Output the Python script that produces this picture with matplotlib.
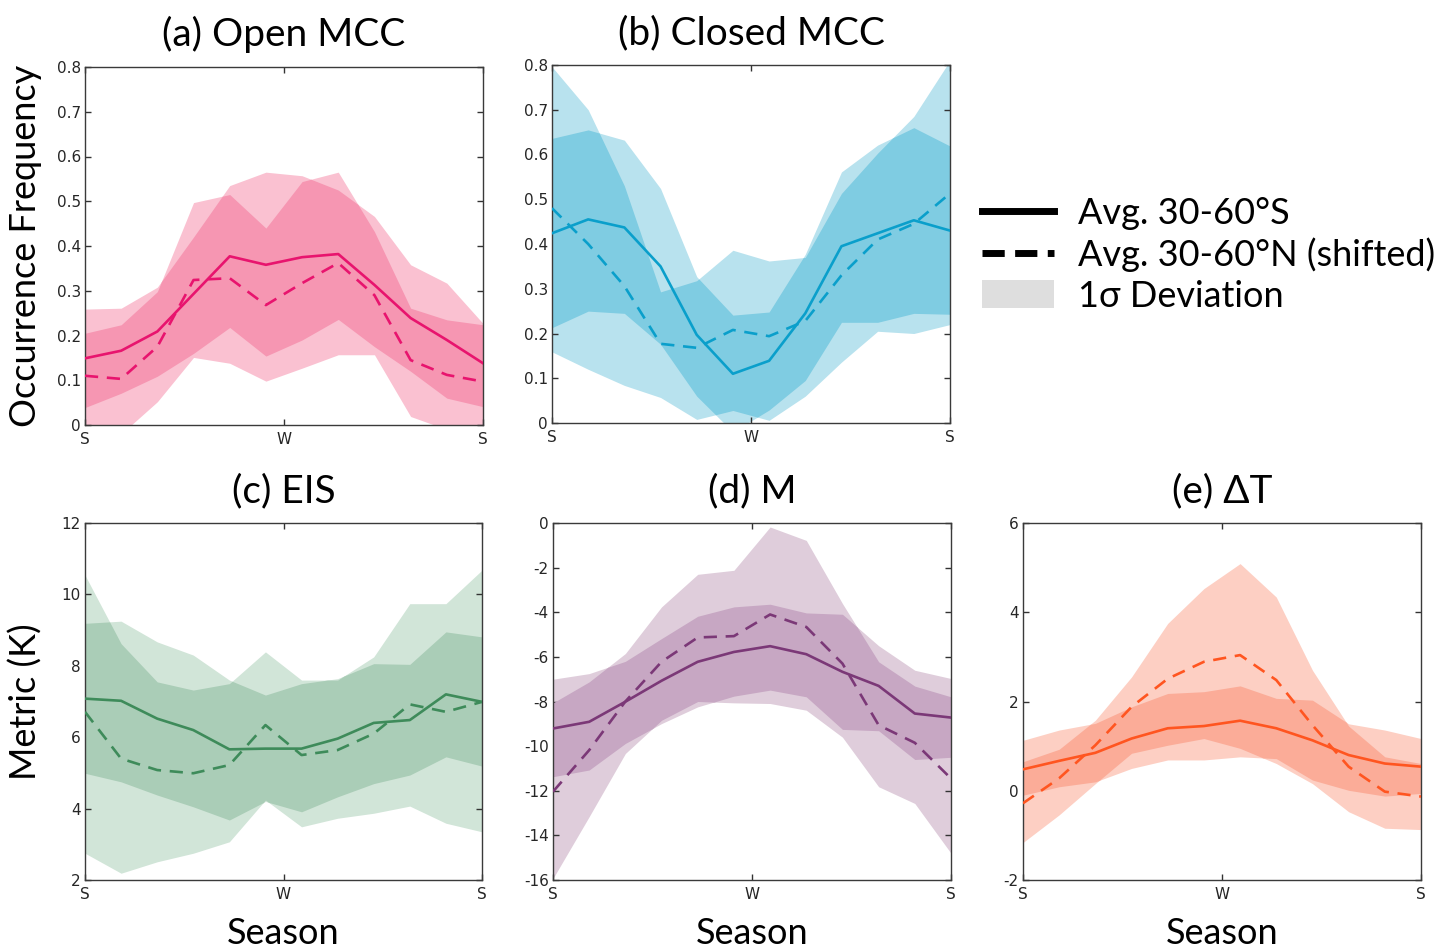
import numpy as np
import matplotlib
matplotlib.use("Agg")
import matplotlib.pyplot as plt
from matplotlib.lines import Line2D
from matplotlib.patches import Patch

# ---------------- data ----------------
months = np.arange(12)
season_ticks = [0, 5.5, 11]
season_labels = ["S", "W", "S"]

# (a) Open MCC
a_S_mean = [0.149, 0.166, 0.209, 0.293, 0.377, 0.358, 0.375, 0.382, 0.313, 0.239, 0.190, 0.138]
a_S_lo = [0.039, 0.071, 0.109, 0.160, 0.218, 0.154, 0.190, 0.236, 0.175, 0.120, 0.060, 0.041]
a_S_hi = [0.259, 0.261, 0.308, 0.420, 0.535, 0.565, 0.557, 0.525, 0.466, 0.358, 0.317, 0.227]
a_N_mean = [0.110, 0.103, 0.175, 0.324, 0.328, 0.268, 0.317, 0.362, 0.290, 0.145, 0.112, 0.097]
a_N_lo = [-0.010, -0.020, 0.052, 0.151, 0.138, 0.098, 0.127, 0.157, 0.157, 0.019, -0.010, -0.030]
a_N_hi = [0.205, 0.224, 0.298, 0.497, 0.515, 0.440, 0.544, 0.565, 0.432, 0.261, 0.235, 0.224]

# (b) Closed MCC
b_S_mean = [0.424, 0.455, 0.437, 0.350, 0.197, 0.110, 0.139, 0.245, 0.395, 0.424, 0.453, 0.430]
b_S_lo = [0.213, 0.250, 0.245, 0.176, 0.060, -0.020, 0.029, 0.095, 0.225, 0.225, 0.245, 0.243]
b_S_hi = [0.636, 0.655, 0.632, 0.524, 0.327, 0.241, 0.248, 0.377, 0.561, 0.621, 0.660, 0.619]
b_N_mean = [0.480, 0.400, 0.306, 0.177, 0.168, 0.208, 0.194, 0.228, 0.330, 0.410, 0.445, 0.513]
b_N_lo = [0.159, 0.120, 0.084, 0.057, 0.008, 0.028, 0.006, 0.060, 0.136, 0.205, 0.200, 0.220]
b_N_hi = [0.796, 0.700, 0.530, 0.293, 0.318, 0.386, 0.362, 0.370, 0.513, 0.603, 0.685, 0.810]

# (c) EIS
c_S_mean = [7.08, 7.02, 6.52, 6.20, 5.66, 5.68, 5.68, 5.96, 6.40, 6.48, 7.20, 6.99]
c_S_lo = [4.99, 4.75, 4.38, 4.05, 3.68, 4.20, 3.91, 4.33, 4.70, 4.94, 5.45, 5.19]
c_S_hi = [9.19, 9.25, 8.67, 8.30, 7.60, 7.18, 7.50, 7.64, 8.06, 8.04, 8.95, 8.81]
c_N_mean = [6.71, 5.40, 5.08, 4.99, 5.22, 6.34, 5.50, 5.64, 6.10, 6.92, 6.71, 6.99]
c_N_lo = [2.75, 2.19, 2.51, 2.75, 3.07, 4.24, 3.49, 3.73, 3.87, 4.07, 3.59, 3.35]
c_N_hi = [10.54, 8.62, 7.55, 7.32, 7.50, 8.39, 7.60, 7.60, 8.25, 9.74, 9.74, 10.68]

# (d) M
d_S_mean = [-9.21, -8.91, -8.01, -7.07, -6.22, -5.78, -5.52, -5.88, -6.67, -7.30, -8.54, -8.72]
d_S_lo = [-11.37, -11.07, -9.88, -8.99, -8.24, -7.76, -7.49, -7.79, -9.25, -9.31, -10.60, -10.50]
d_S_hi = [-7.00, -6.75, -6.20, -5.18, -4.18, -3.76, -3.64, -4.03, -4.09, -5.50, -6.60, -6.97]
d_N_mean = [-12.04, -10.18, -8.00, -6.22, -5.13, -5.07, -4.10, -4.66, -6.30, -9.06, -9.85, -11.45]
d_N_lo = [-15.93, -13.16, -10.33, -8.84, -8.00, -8.06, -8.09, -8.39, -9.60, -11.82, -12.57, -14.80]
d_N_hi = [-8.06, -7.12, -5.85, -3.76, -2.30, -2.12, -0.18, -0.78, -3.61, -6.22, -7.31, -7.79]

# (e) Delta T
e_S_mean = [0.48, 0.67, 0.85, 1.17, 1.40, 1.45, 1.57, 1.40, 1.13, 0.80, 0.61, 0.54]
e_S_lo = [-0.10, 0.09, 0.20, 0.50, 0.69, 0.69, 0.76, 0.72, 0.24, 0.01, -0.12, -0.06]
e_S_hi = [1.13, 1.36, 1.51, 1.88, 2.18, 2.22, 2.35, 2.07, 2.03, 1.50, 1.36, 1.17]
e_N_mean = [-0.28, 0.28, 1.02, 1.88, 2.51, 2.89, 3.04, 2.48, 1.47, 0.54, -0.02, -0.13]
e_N_lo = [-1.16, -0.54, 0.16, 0.84, 1.02, 1.17, 0.95, 0.61, 0.16, -0.47, -0.84, -0.87]
e_N_hi = [0.65, 0.93, 1.58, 2.55, 3.75, 4.53, 5.09, 4.34, 2.70, 1.45, 0.76, 0.61]

titles = ["(a) Open MCC", "(b) Closed MCC", "(c) EIS", "(d) M", "(e) \u0394T"]
legend_labels = ["Avg. 30-60\u00b0S", "Avg. 30-60\u00b0N (shifted)", "1\u03c3 Deviation"]

# ---------------- style ----------------
TXT = "Lato"
TICKFONT = "DejaVu Sans"

panels = [
    dict(S=(a_S_mean, a_S_lo, a_S_hi), N=(a_N_mean, a_N_lo, a_N_hi),
         line="#E8146E", light="#FAC1D1", dark="#F696B2",
         ylim=(0, 0.8), yticks=np.arange(0, 0.81, 0.1),
         ytl=["0", "0.1", "0.2", "0.3", "0.4", "0.5", "0.6", "0.7", "0.8"],
         rect=(85, 67, 483, 425)),
    dict(S=(b_S_mean, b_S_lo, b_S_hi), N=(b_N_mean, b_N_lo, b_N_hi),
         line="#0A9FCB", light="#B8E2EE", dark="#7FCCE2",
         ylim=(0, 0.8), yticks=np.arange(0, 0.81, 0.1),
         ytl=["0", "0.1", "0.2", "0.3", "0.4", "0.5", "0.6", "0.7", "0.8"],
         rect=(552, 65, 950, 423)),
    dict(S=(c_S_mean, c_S_lo, c_S_hi), N=(c_N_mean, c_N_lo, c_N_hi),
         line="#3E8B5A", light="#D1E5D8", dark="#AACDB7",
         ylim=(2, 12), yticks=np.arange(2, 12.1, 2),
         ytl=["2", "4", "6", "8", "10", "12"],
         rect=(85, 523, 482, 880)),
    dict(S=(d_S_mean, d_S_lo, d_S_hi), N=(d_N_mean, d_N_lo, d_N_hi),
         line="#7B3877", light="#DFCDDB", dark="#C7A7C3",
         ylim=(-16, 0), yticks=np.arange(-16, 0.1, 2),
         ytl=["-16", "-14", "-12", "-10", "-8", "-6", "-4", "-2", "0"],
         rect=(553, 523, 951, 880)),
    dict(S=(e_S_mean, e_S_lo, e_S_hi), N=(e_N_mean, e_N_lo, e_N_hi),
         line="#FF5520", light="#FDCFC3", dark="#FBAC98",
         ylim=(-2, 6), yticks=np.arange(-2, 6.1, 2),
         ytl=["-2", "0", "2", "4", "6"],
         rect=(1023, 523, 1421, 880)),
]

W, H = 1453, 949
fig = plt.figure(figsize=(W / 100, H / 100), dpi=100)

xf = np.linspace(0, 11, 1101)
axes = []
for k, p in enumerate(panels):
    x0, y0, x1, y1 = p["rect"]
    ax = fig.add_axes([x0 / W, 1 - y1 / H, (x1 - x0) / W, (y1 - y0) / H])
    axes.append(ax)
    Sm, Sl, Sh = (np.asarray(v) for v in p["S"])
    Nm, Nl, Nh = (np.asarray(v) for v in p["N"])
    # 1-sigma bands
    ax.fill_between(months, Sl, Sh, color=p["light"], lw=0, zorder=1)
    ax.fill_between(months, Nl, Nh, color=p["light"], lw=0, zorder=1)
    lo = np.maximum(np.interp(xf, months, Sl), np.interp(xf, months, Nl))
    hi = np.minimum(np.interp(xf, months, Sh), np.interp(xf, months, Nh))
    ax.fill_between(xf, lo, hi, where=hi > lo, color=p["dark"], lw=0, zorder=2)
    # means
    ax.plot(months, Nm, color=p["line"], lw=1.9, dashes=(5, 3.3), zorder=3)
    ax.plot(months, Sm, color=p["line"], lw=1.9, zorder=4)

    ax.set_xlim(0, 11)
    ax.set_ylim(*p["ylim"])
    ax.set_xticks(season_ticks)
    ax.set_xticklabels(season_labels)
    ax.set_yticks(p["yticks"])
    ax.set_yticklabels(p["ytl"])
    ax.tick_params(direction="in", length=4, width=1, top=True, right=True,
                   labelsize=11, colors="#333333")
    ax.tick_params(axis="y", pad=3)
    ax.tick_params(axis="x", pad=5)
    for lab in ax.get_xticklabels() + ax.get_yticklabels():
        lab.set_fontfamily(TICKFONT)
        lab.set_color("#262626")
    for s in ax.spines.values():
        s.set_color("#3a3a3a")
        s.set_linewidth(1.0)
    ax.set_title(titles[k], fontsize=28, fontfamily=TXT, pad=15, color="black")

axes[0].set_ylabel("Occurrence Frequency", fontsize=26, fontfamily=TXT)
axes[0].yaxis.set_label_coords(-0.108, 0.5)
axes[2].set_ylabel("Metric (K)", fontsize=26, fontfamily=TXT)
axes[2].yaxis.set_label_coords(-0.108, 0.5)
for ax in axes[2:]:
    ax.set_xlabel("Season", fontsize=26, fontfamily=TXT, labelpad=11)

handles = [
    Line2D([], [], color="black", lw=5),
    Line2D([], [], color="black", lw=5, dashes=(3.2, 1.5)),
    Patch(facecolor="#DEDEDE", edgecolor="none"),
]
fig.legend(handles, legend_labels, loc="center left",
           bbox_to_anchor=(982 / W, 1 - 255 / H), frameon=False,
           prop=dict(family=TXT, size=26), handlelength=2.0,
           handleheight=0.84, handletextpad=0.66, labelspacing=0.2,
           borderaxespad=0, borderpad=0)

fig.savefig("out.png", dpi=100, facecolor="white")
